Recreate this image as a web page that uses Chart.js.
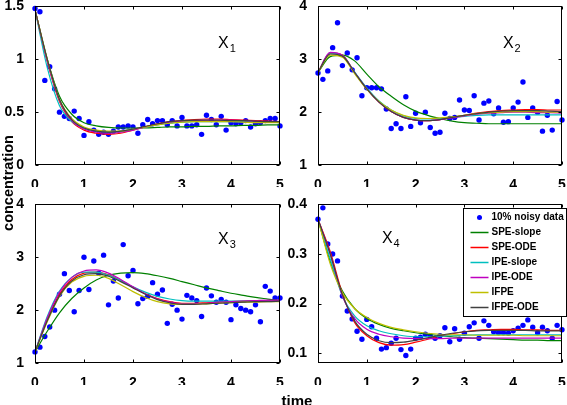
<!DOCTYPE html>
<html>
<head>
<meta charset="utf-8">
<script src="https://cdn.jsdelivr.net/npm/chart.js@4.4.1/dist/chart.umd.min.js"></script>
<style>
  html, body { margin: 0; padding: 0; background: #fff; }
  body { width: 567px; height: 405px; position: relative; overflow: hidden; font-family: "Liberation Sans", Arial, sans-serif; }
  canvas { position: absolute; }
  .lbl { position: absolute; font-weight: bold; color: #000; white-space: nowrap; text-align: center; }
  #ylab { left: -52px; top: 175px; width: 120px; height: 16px; line-height: 16px; font-size: 14.5px; transform: rotate(-90deg); }
  #xlab { left: 267px; top: 392px; width: 60px; line-height: 17px; font-size: 15px; }
</style>
</head>
<body>
<canvas id="c1"></canvas>
<canvas id="c2"></canvas>
<canvas id="c3"></canvas>
<canvas id="c4"></canvas>
<div class="lbl" id="ylab">concentration</div>
<div class="lbl" id="xlab">time</div>
<script>
// sample times of the noisy measurements
const sampleTime = [0, 0.1, 0.2, 0.3, 0.4, 0.5, 0.6, 0.7, 0.8, 0.9,
    1, 1.1, 1.2, 1.3, 1.4, 1.5, 1.6, 1.7, 1.8, 1.9,
    2, 2.1, 2.2, 2.3, 2.4, 2.5, 2.6, 2.7, 2.8, 2.9,
    3, 3.1, 3.2, 3.3, 3.4, 3.5, 3.6, 3.7, 3.8, 3.9,
    4, 4.1, 4.2, 4.3, 4.4, 4.5, 4.6, 4.7, 4.8, 4.9, 5];

// time grid of the fitted curves
const curveTime = [0, 0.25, 0.5, 0.75, 1, 1.25, 1.5, 1.75, 2, 2.25, 2.5,
    2.75, 3, 3.25, 3.5, 3.75, 4, 4.25, 4.5, 4.75, 5];

const xTicks = [0, 1, 2, 3, 4, 5];

const seriesNames = ["10% noisy data", "SPE-slope", "SPE-ODE", "IPE-slope", "IPE-ODE", "IFPE", "IFPE-ODE"];
const seriesColors = ["#0000ff", "#008000", "#ff0000", "#00bfbf", "#bf00bf", "#bfbf00", "#404040"];

// X1
const x1YTicks = [0, 0.5, 1, 1.5];
const x1Noisy = [1.48, 1.45, 0.80, 0.93, 0.72, 0.50, 0.46, 0.44, 0.51, 0.44,
    0.28, 0.41, 0.33, 0.29, 0.31, 0.29, 0.32, 0.36, 0.36, 0.37,
    0.36, 0.30, 0.38, 0.43, 0.39, 0.42, 0.42, 0.38, 0.42, 0.37,
    0.45, 0.37, 0.37, 0.38, 0.29, 0.47, 0.43, 0.38, 0.46, 0.33,
    0.40, 0.39, 0.40, 0.42, 0.36, 0.39, 0.40, 0.42, 0.44, 0.44, 0.37];
const x1SpeSlope = [1.47, 1.00, 0.65, 0.48, 0.40, 0.37, 0.355, 0.35, 0.35, 0.35, 0.355, 0.36, 0.36, 0.365, 0.365, 0.37, 0.37, 0.375, 0.375, 0.38, 0.38];
const x1SpeOde = [1.47, 0.98, 0.60, 0.41, 0.33, 0.30, 0.29, 0.30, 0.33, 0.36, 0.39, 0.41, 0.42, 0.43, 0.435, 0.435, 0.43, 0.425, 0.42, 0.415, 0.41];
const x1IpeSlope = [1.47, 0.92, 0.56, 0.41, 0.35, 0.32, 0.31, 0.32, 0.34, 0.36, 0.38, 0.395, 0.405, 0.41, 0.41, 0.41, 0.41, 0.41, 0.405, 0.405, 0.40];
const x1IpeOde = [1.47, 0.98, 0.61, 0.42, 0.34, 0.31, 0.30, 0.31, 0.33, 0.36, 0.385, 0.405, 0.415, 0.42, 0.425, 0.425, 0.425, 0.42, 0.415, 0.41, 0.41];
const x1Ifpe = [1.47, 1.00, 0.62, 0.44, 0.36, 0.33, 0.32, 0.32, 0.34, 0.36, 0.38, 0.395, 0.405, 0.41, 0.41, 0.41, 0.41, 0.405, 0.40, 0.40, 0.40];
const x1IfpeOde = [1.47, 1.00, 0.62, 0.43, 0.35, 0.32, 0.31, 0.32, 0.34, 0.365, 0.39, 0.41, 0.42, 0.425, 0.425, 0.425, 0.42, 0.42, 0.415, 0.41, 0.41];

// X2
const x2YTicks = [1, 2, 3, 4];
const x2Noisy = [2.74, 2.62, 2.78, 3.22, 3.69, 2.88, 3.12, 2.80, 3.03, 2.31,
    2.46, 2.46, 2.46, 2.44, 2.06, 1.69, 1.78, 1.69, 2.29, 1.73,
    1.98, 1.80, 2.00, 1.71, 1.60, 1.62, 1.98, 1.88, 1.90, 2.23,
    2.04, 2.03, 2.31, 1.85, 2.17, 2.21, 1.97, 2.08, 1.81, 1.82,
    2.08, 2.19, 2.57, 1.90, 2.08, 2.00, 1.64, 1.94, 1.66, 2.20, 1.85];
const x2SpeSlope = [2.75, 3.05, 3.08, 2.97, 2.72, 2.48, 2.30, 2.14, 2.02, 1.94, 1.88, 1.83, 1.80, 1.79, 1.78, 1.78, 1.78, 1.78, 1.78, 1.78, 1.78];
const x2SpeOde = [2.75, 3.12, 3.08, 2.75, 2.44, 2.19, 2.01, 1.90, 1.85, 1.84, 1.86, 1.90, 1.94, 1.98, 2.01, 2.03, 2.04, 2.05, 2.05, 2.04, 2.04];
const x2IpeSlope = [2.75, 3.12, 3.07, 2.76, 2.46, 2.21, 2.04, 1.93, 1.88, 1.87, 1.88, 1.90, 1.92, 1.94, 1.95, 1.95, 1.95, 1.95, 1.95, 1.95, 1.95];
const x2IpeOde = [2.75, 3.13, 3.07, 2.75, 2.44, 2.19, 2.01, 1.90, 1.85, 1.84, 1.86, 1.89, 1.93, 1.96, 1.98, 1.99, 2.00, 2.00, 1.99, 1.99, 1.98];
const x2Ifpe = [2.75, 3.08, 3.04, 2.73, 2.43, 2.20, 2.04, 1.94, 1.89, 1.88, 1.89, 1.91, 1.94, 1.97, 1.99, 2.00, 2.01, 2.01, 2.01, 2.00, 2.00];
const x2IfpeOde = [2.75, 3.10, 3.06, 2.75, 2.44, 2.19, 2.01, 1.90, 1.85, 1.84, 1.86, 1.90, 1.94, 1.97, 2.00, 2.02, 2.03, 2.03, 2.03, 2.02, 2.01];

// X3
const x3YTicks = [1, 2, 3, 4];
const x3Noisy = [1.21, 1.30, 1.50, 1.68, 2.00, 2.30, 2.69, 2.37, 1.97, 2.37,
    3.00, 2.39, 2.93, 2.70, 3.04, 2.10, 2.55, 2.23, 3.24, 2.65,
    2.75, 2.12, 2.22, 2.26, 2.52, 2.30, 2.38, 1.75, 2.11, 2.00,
    1.83, 2.28, 2.23, 2.18, 1.88, 2.42, 2.27, 2.15, 2.20, 2.15,
    1.82, 2.10, 2.03, 2.00, 1.97, 2.10, 1.78, 2.45, 2.36, 2.23, 2.23];
const x3SpeSlope = [1.21, 1.60, 1.95, 2.22, 2.42, 2.57, 2.66, 2.70, 2.71, 2.69, 2.65, 2.60, 2.54, 2.48, 2.42, 2.37, 2.32, 2.28, 2.24, 2.21, 2.18];
const x3SpeOde = [1.21, 1.82, 2.30, 2.58, 2.70, 2.72, 2.67, 2.56, 2.43, 2.31, 2.22, 2.16, 2.13, 2.13, 2.14, 2.15, 2.16, 2.17, 2.18, 2.18, 2.18];
const x3IpeSlope = [1.21, 1.88, 2.36, 2.62, 2.72, 2.72, 2.66, 2.56, 2.44, 2.34, 2.26, 2.21, 2.18, 2.17, 2.17, 2.17, 2.17, 2.17, 2.17, 2.17, 2.17];
const x3IpeOde = [1.21, 1.85, 2.34, 2.62, 2.74, 2.76, 2.70, 2.58, 2.44, 2.31, 2.21, 2.15, 2.12, 2.12, 2.13, 2.15, 2.16, 2.17, 2.18, 2.19, 2.19];
const x3Ifpe = [1.21, 1.78, 2.26, 2.53, 2.64, 2.66, 2.60, 2.48, 2.35, 2.24, 2.16, 2.12, 2.11, 2.11, 2.12, 2.13, 2.14, 2.15, 2.15, 2.16, 2.16];
const x3IfpeOde = [1.21, 1.80, 2.27, 2.55, 2.67, 2.69, 2.64, 2.54, 2.42, 2.30, 2.20, 2.14, 2.11, 2.11, 2.12, 2.13, 2.14, 2.15, 2.16, 2.16, 2.17];

// X4
const x4YTicks = [0.1, 0.2, 0.3, 0.4];
const x4Noisy = [0.370, 0.393, 0.320, 0.300, 0.286, 0.215, 0.185, 0.169, 0.144, 0.128,
    0.168, 0.153, 0.130, 0.108, 0.111, 0.120, 0.130, 0.107, 0.095, 0.108,
    0.130, 0.132, 0.138, 0.135, 0.130, 0.135, 0.151, 0.123, 0.149, 0.128,
    0.140, 0.153, 0.161, 0.130, 0.165, 0.156, 0.143, 0.141, 0.141, 0.140,
    0.145, 0.150, 0.156, 0.167, 0.152, 0.141, 0.152, 0.145, 0.130, 0.156, 0.147];
const x4SpeSlope = [0.370, 0.285, 0.225, 0.190, 0.170, 0.158, 0.150, 0.145, 0.141, 0.138, 0.135, 0.133, 0.131, 0.130, 0.129, 0.128, 0.127, 0.126, 0.126, 0.125, 0.125];
const x4SpeOde = [0.370, 0.305, 0.220, 0.162, 0.135, 0.121, 0.116, 0.117, 0.122, 0.128, 0.134, 0.139, 0.143, 0.146, 0.147, 0.148, 0.148, 0.147, 0.147, 0.146, 0.146];
const x4IpeSlope = [0.370, 0.290, 0.215, 0.175, 0.155, 0.145, 0.139, 0.135, 0.133, 0.133, 0.134, 0.135, 0.136, 0.137, 0.137, 0.137, 0.137, 0.137, 0.137, 0.137, 0.137];
const x4IpeOde = [0.370, 0.300, 0.215, 0.170, 0.148, 0.138, 0.133, 0.130, 0.129, 0.129, 0.129, 0.130, 0.130, 0.130, 0.130, 0.130, 0.130, 0.130, 0.130, 0.130, 0.130];
const x4Ifpe = [0.370, 0.280, 0.222, 0.190, 0.172, 0.160, 0.152, 0.147, 0.143, 0.140, 0.138, 0.137, 0.137, 0.136, 0.136, 0.136, 0.136, 0.135, 0.135, 0.135, 0.135];
const x4IfpeOde = [0.370, 0.300, 0.218, 0.165, 0.138, 0.125, 0.121, 0.122, 0.126, 0.131, 0.136, 0.140, 0.143, 0.145, 0.146, 0.146, 0.146, 0.146, 0.145, 0.145, 0.145];

const FONT = '"Liberation Sans", Arial, sans-serif';
const tickFont = { family: FONT, size: 14, weight: "bold" };

// frame with inward ticks, panel name and (optionally) the legend box
const decorPlugin = {
    id: "decor",
    afterDraw(chart, args, opts) {
        const { ctx, chartArea: a, scales } = chart;
        const l = Math.round(a.left) + 0.5, r = Math.round(a.right) - 0.5;
        const t = Math.round(a.top) + 0.5, b = Math.round(a.bottom) - 0.5;
        ctx.save();
        ctx.strokeStyle = "#000";
        ctx.lineWidth = 1;
        ctx.strokeRect(l, t, r - l, b - t);
        ctx.beginPath();
        xTicks.forEach((v) => {
            const px = Math.round(scales.x.getPixelForValue(v)) + 0.5;
            ctx.moveTo(px, b); ctx.lineTo(px, b - 3);
            ctx.moveTo(px, t); ctx.lineTo(px, t + 3);
        });
        opts.yTicks.forEach((v) => {
            const py = Math.round(scales.y.getPixelForValue(v)) + 0.5;
            ctx.moveTo(l, py); ctx.lineTo(l + 3, py);
            ctx.moveTo(r, py); ctx.lineTo(r - 3, py);
        });
        ctx.stroke();

        // panel name, e.g. X with subscript
        const nx = a.left + opts.namePos[0] * (a.right - a.left);
        const ny = a.top + opts.namePos[1] * (a.bottom - a.top);
        ctx.fillStyle = "#000";
        ctx.textBaseline = "alphabetic";
        ctx.font = "16px " + FONT;
        ctx.fillText("X", nx, ny);
        const w = ctx.measureText("X").width;
        ctx.font = "11px " + FONT;
        ctx.fillText(opts.sub, nx + w + 1, ny + 4);

        if (opts.legend) {
            const bl = Math.round(a.right) - 99 + 0.5, bt = Math.round(a.top) + 4 + 0.5;
            const br = Math.round(a.right) + 4 + 0.5, bb = Math.round(a.top) + 112 + 0.5;
            ctx.fillStyle = "#fff";
            ctx.fillRect(bl, bt, br - bl, bb - bt);
            ctx.strokeStyle = "#000";
            ctx.strokeRect(bl, bt, br - bl, bb - bt);
            ctx.save();
            ctx.beginPath();
            ctx.rect(bl, bt, br - bl, bb - bt);
            ctx.clip();
            ctx.font = "bold 10px " + FONT;
            ctx.textBaseline = "middle";
            chart.data.datasets.forEach((ds, i) => {
                const cy = a.top + 13 + i * 15;
                if (ds.showLine === false) {
                    ctx.fillStyle = ds.backgroundColor;
                    ctx.beginPath();
                    ctx.arc(bl + 16, cy, 2.5, 0, Math.PI * 2);
                    ctx.fill();
                } else {
                    ctx.strokeStyle = ds.borderColor;
                    ctx.lineWidth = 1.5;
                    ctx.beginPath();
                    ctx.moveTo(bl + 7, cy); ctx.lineTo(bl + 25, cy);
                    ctx.stroke();
                }
                ctx.fillStyle = "#000";
                ctx.fillText(ds.label, bl + 28, cy);
            });
            ctx.restore();
        }
        ctx.restore();
    },
};

function makePanel(id, box, yMin, yMax, yTicks, noisy, curves, sub, namePos, legend) {
    const [L, T, R, B] = box;
    const cv = document.getElementById(id);
    cv.width = R - L + 44;
    cv.height = B - T + 32;
    cv.style.left = (L - 34) + "px";
    cv.style.top = (T - 10) + "px";

    const datasets = [{
        label: seriesNames[0],
        data: sampleTime.map((t, i) => ({ x: t, y: noisy[i] })),
        showLine: false,
        backgroundColor: seriesColors[0],
        borderColor: seriesColors[0],
        pointRadius: 2.7,
        pointBorderWidth: 0,
        clip: false,
        order: 10,
    }];
    curves.forEach((vals, k) => {
        datasets.push({
            label: seriesNames[k + 1],
            data: curveTime.map((t, i) => ({ x: t, y: vals[i] })),
            borderColor: seriesColors[k + 1],
            backgroundColor: seriesColors[k + 1],
            borderWidth: 1.2,
            pointRadius: 0,
            cubicInterpolationMode: "monotone",
            fill: false,
            order: 6 - k,
        });
    });

    return new Chart(cv, {
        type: "line",
        data: { datasets },
        options: {
            responsive: false,
            animation: false,
            devicePixelRatio: 1,
            layout: { padding: { left: 0, top: 10, right: 10, bottom: 0 } },
            plugins: {
                legend: { display: false },
                tooltip: { enabled: false },
                decor: { yTicks, sub, namePos, legend },
            },
            scales: {
                x: {
                    type: "linear",
                    min: 0,
                    max: 5,
                    grid: { display: false },
                    border: { display: false },
                    afterBuildTicks: (s) => { s.ticks = xTicks.map((v) => ({ value: v })); },
                    afterFit: (s) => { s.height = 22; },
                    ticks: { padding: 4, font: tickFont, color: "#000", maxRotation: 0, autoSkip: false, callback: (v) => String(v) },
                },
                y: {
                    type: "linear",
                    min: yMin,
                    max: yMax,
                    grid: { display: false },
                    border: { display: false },
                    afterBuildTicks: (s) => { s.ticks = yTicks.map((v) => ({ value: v })); },
                    afterFit: (s) => { s.width = 34; },
                    ticks: { padding: 3, font: tickFont, color: "#000", autoSkip: false, callback: (v) => String(v) },
                },
            },
        },
        plugins: [decorPlugin],
    });
}

makePanel("c1", [35, 5, 280, 165], 0, 1.5, x1YTicks, x1Noisy,
    [x1SpeSlope, x1SpeOde, x1IpeSlope, x1IpeOde, x1Ifpe, x1IfpeOde], "1", [0.747, 0.2625], false);
makePanel("c2", [318, 5, 562, 165], 1, 4, x2YTicks, x2Noisy,
    [x2SpeSlope, x2SpeOde, x2IpeSlope, x2IpeOde, x2Ifpe, x2IfpeOde], "2", [0.758, 0.26], false);
makePanel("c3", [35, 203, 280, 363], 1, 4, x3YTicks, x3Noisy,
    [x3SpeSlope, x3SpeOde, x3IpeSlope, x3IpeOde, x3Ifpe, x3IfpeOde], "3", [0.747, 0.25], false);
makePanel("c4", [318, 203, 562, 363], 0.08, 0.4, x4YTicks, x4Noisy,
    [x4SpeSlope, x4SpeOde, x4IpeSlope, x4IpeOde, x4Ifpe, x4IfpeOde], "4", [0.262, 0.244], true);
</script>
</body>
</html>
